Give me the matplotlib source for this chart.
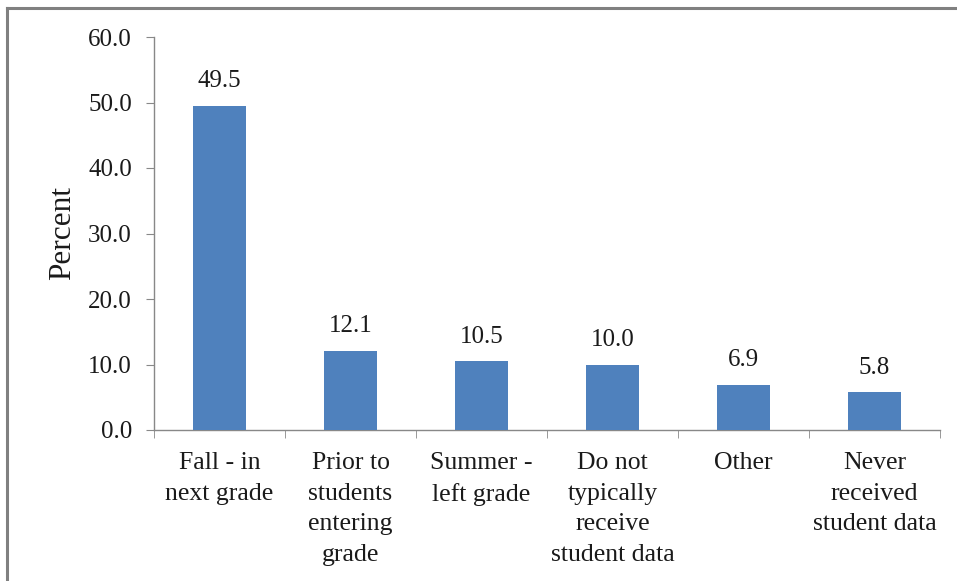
import matplotlib.pyplot as plt
from matplotlib.lines import Line2D
import numpy as np

categories = [
    "Fall - in\nnext grade",
    "Prior to\nstudents\nentering\ngrade",
    "Summer -\nleft grade",
    "Do not\ntypically\nreceive\nstudent data",
    "Other",
    "Never\nreceived\nstudent data",
]
percent = [49.5, 12.1, 10.5, 10.0, 6.9, 5.8]
y_ticks = [0, 10, 20, 30, 40, 50, 60]

plt.rcParams['font.family'] = ['Liberation Serif', 'DejaVu Serif']

fig = plt.figure(figsize=(9.57, 5.81), dpi=100)
ax = fig.add_axes([154 / 957, 1 - 430 / 581, (940 - 154) / 957, (430 - 37) / 581])

x = np.arange(len(categories))
bar_color = '#4F81BD'
ax.bar(x, percent, width=0.4, color=bar_color, zorder=3)

for xi, v in zip(x, percent):
    ax.text(xi, v + 2.8, f"{v:.1f}", ha='center', va='baseline', fontsize=18, color='#1a1a1a')

ax.set_xlim(-0.5, len(categories) - 0.5)
ax.set_ylim(0, 60)
ax.set_yticks(y_ticks)
ax.set_yticklabels([f"{t:.1f}" for t in y_ticks], fontsize=18, color='#1a1a1a')

# category labels sit under each bar, tick marks sit between categories
ax.set_xticks(x)
ax.set_xticklabels(categories, fontsize=18.5, color='#1a1a1a', linespacing=1.5)
ax.tick_params(axis='x', length=0, pad=16)
ax.set_xticks(np.arange(len(categories) + 1) - 0.5, minor=True)
ax.tick_params(axis='x', which='minor', length=6, direction='out', color='#888888')
ax.tick_params(axis='y', length=6, direction='out', color='#888888', pad=10)

ax.set_ylabel("Percent", fontsize=22.5, color='#1a1a1a', labelpad=8)

for side in ['top', 'right']:
    ax.spines[side].set_visible(False)
for side in ['left', 'bottom']:
    ax.spines[side].set_color('#888888')
    ax.spines[side].set_linewidth(1.0)

# outer frame, only top and left edges are inside the canvas
fig.add_artist(Line2D([7 / 957, 1.0], [1 - 8 / 581, 1 - 8 / 581],
                      transform=fig.transFigure, color='#808080', linewidth=2.2))
fig.add_artist(Line2D([7 / 957, 7 / 957], [0.0, 1 - 8 / 581],
                      transform=fig.transFigure, color='#808080', linewidth=2.2))

fig.savefig("out.png", dpi=100)
